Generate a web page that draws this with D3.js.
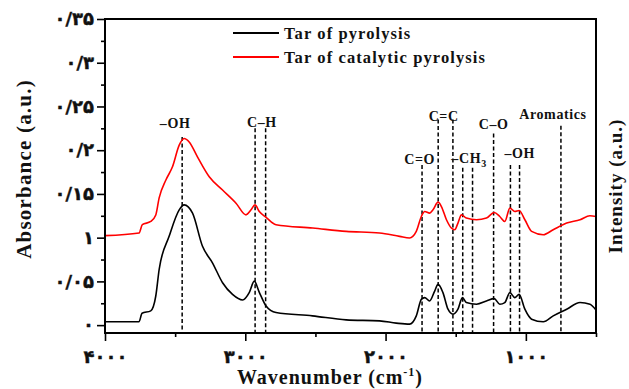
<!DOCTYPE html>
<html>
<head>
<meta charset="utf-8">
<script src="https://cdn.jsdelivr.net/npm/d3@7"></script>
<style>
  body { margin: 0; background: #fff; }
  svg { display: block; }
  text { font-family: "Liberation Serif", "Times New Roman", serif; font-weight: bold; fill: #111; }
  .axis text { font-family: "DejaVu Sans", sans-serif; font-size: 18px; font-weight: bold; stroke: #111; stroke-width: 0.4px; }
  .axis line { stroke: #000; stroke-width: 1.6px; }
  .axis path { display: none; }
</style>
</head>
<body>
<svg id="chart"></svg>
<script>
// datos (cm-1 / absorbancia)
const pyrolysisWn = [4000, 3757, 3736, 3674, 3638, 3614, 3543, 3471, 3436, 3376, 3305, 3234, 3162, 3091, 3019, 2971, 2936, 2900, 2852, 2781, 2521, 2281, 2043, 1924, 1829, 1781, 1745, 1721, 1686, 1650, 1626, 1591, 1555, 1519, 1484, 1452, 1424, 1352, 1281, 1226, 1186, 1150, 1114, 1079, 1048, 1007, 959, 876, 805, 709, 614, 543, 500];
const pyrolysisAbs = [0.0038, 0.004, 0.0136, 0.0163, 0.0333, 0.0636, 0.1015, 0.1318, 0.1375, 0.128, 0.0901, 0.0713, 0.0485, 0.0352, 0.0288, 0.0375, 0.0503, 0.0375, 0.0219, 0.0144, 0.0106, 0.006, 0.0049, 0.0023, 0.0011, 0.0106, 0.0295, 0.0315, 0.0276, 0.039, 0.0466, 0.0372, 0.0182, 0.0125, 0.0182, 0.0315, 0.0258, 0.0239, 0.0276, 0.0303, 0.0239, 0.0258, 0.0372, 0.0315, 0.0352, 0.0182, 0.0068, 0.0038, 0.0106, 0.0182, 0.0258, 0.0239, 0.0172];

const catalyticWn = [4000, 3757, 3734, 3674, 3638, 3614, 3566, 3519, 3471, 3436, 3400, 3341, 3257, 3162, 3066, 2995, 2959, 2931, 2900, 2852, 2781, 2519, 2281, 2043, 1900, 1829, 1781, 1745, 1721, 1686, 1662, 1626, 1602, 1566, 1531, 1507, 1484, 1459, 1424, 1352, 1281, 1226, 1186, 1150, 1114, 1079, 1048, 1007, 959, 876, 805, 709, 614, 543, 500];
const catalyticAbs = [0.1023, 0.1053, 0.1148, 0.1185, 0.126, 0.1455, 0.1659, 0.181, 0.2057, 0.2133, 0.2094, 0.1924, 0.1697, 0.1545, 0.1394, 0.1261, 0.1318, 0.1375, 0.1299, 0.1233, 0.1148, 0.111, 0.1072, 0.1053, 0.1015, 0.0997, 0.1072, 0.1242, 0.1299, 0.1281, 0.1318, 0.1406, 0.1356, 0.1205, 0.111, 0.1091, 0.1167, 0.1261, 0.1224, 0.1205, 0.1224, 0.1288, 0.1242, 0.1185, 0.1338, 0.1299, 0.131, 0.1205, 0.1072, 0.1034, 0.1091, 0.1167, 0.1205, 0.125, 0.1242];

const seriesNames = ['Tar of pyrolysis', 'Tar of catalytic pyrolysis'];
const seriesColors = ['#000', '#ff0000'];

// bandas marcadas con lineas discontinuas
const bandNames = ['–OH', 'C–H', 'C=O', 'C=C', '–CH', 'C–O', '–OH', 'Aromatics'];
const bandSub = ['', '', '', '', '3', '', '', ''];
const bandLines = [[3450], [2930, 2855], [1740], [1625, 1520], [1450, 1380], [1230], [1110, 1045], [750]];
const bandTops = [0.215, 0.225, 0.183, 0.235, 0.18, 0.219, 0.183, 0.228];
const bandLabelWn = [3500, 2882, 1757, 1586, 1405, 1229, 1043, 807];
const bandLabelAbs = [0.2307, 0.2318, 0.19, 0.2386, 0.191, 0.2295, 0.1966, 0.241];

const yTicks = [0, 0.05, 0.1, 0.15, 0.2, 0.25, 0.3, 0.35];
const yTickLabels = ['۰', '۰/۰۵', '۱', '۰/۱۵', '۰/۲', '۰/۲۵', '۰/۳', '۰/۳۵'];
const xTicks = [4000, 3000, 2000, 1000];
const xTickLabels = ['۴۰۰۰', '۳۰۰۰', '۲۰۰۰', '۱۰۰۰'];

const w = 629, h = 389;
const margin = { top: 19, right: 33, bottom: 56, left: 105 };
const width = w - margin.left - margin.right;
const height = h - margin.top - margin.bottom;

const svg = d3.select('#chart').attr('width', w).attr('height', h);
const g = svg.append('g').attr('transform', 'translate(' + margin.left + ',' + margin.top + ')');

const x = d3.scaleLinear().domain([4000, 500]).range([0, width]);
const y = d3.scaleLinear().domain([-0.009, 0.35]).range([height, 0]);

// ejes
g.append('g').attr('class', 'axis')
  .call(d3.axisLeft(y).tickValues(d3.range(0.025, 0.35, 0.05)).tickSize(4).tickFormat(''));
g.append('g').attr('class', 'axis')
  .call(d3.axisLeft(y).tickValues(yTicks).tickSize(8).tickPadding(3)
    .tickFormat((d, i) => yTickLabels[i]));

g.append('g').attr('class', 'axis').attr('transform', 'translate(0,' + height + ')')
  .call(d3.axisBottom(x).tickValues([3500, 2500, 1500, 500]).tickSize(4).tickFormat(''));
g.append('g').attr('class', 'axis').attr('transform', 'translate(0,' + height + ')')
  .call(d3.axisBottom(x).tickValues(xTicks).tickSize(8).tickPadding(9)
    .tickFormat((d, i) => xTickLabels[i]));

// lineas de bandas
const bands = g.append('g');
bandLines.forEach((lines, i) => {
  lines.forEach(wn => {
    bands.append('line')
      .attr('x1', x(wn)).attr('x2', x(wn))
      .attr('y1', y(bandTops[i])).attr('y2', height)
      .attr('stroke', '#000').attr('stroke-width', 1.5)
      .attr('stroke-dasharray', '4,2.5');
  });
  const t = bands.append('text')
    .attr('x', x(bandLabelWn[i])).attr('y', y(bandLabelAbs[i]))
    .attr('dy', '0.35em').attr('text-anchor', 'middle')
    .style('font-size', '14px').style('letter-spacing', '0.6px')
    .text(bandNames[i]);
  if (bandSub[i]) {
    t.append('tspan').attr('dy', '4').style('font-size', '10px').text(bandSub[i]);
  }
});

// espectros
const line = d3.line().curve(d3.curveMonotoneX).x(d => x(d[0])).y(d => y(d[1]));
const series = [
  d3.zip(pyrolysisWn, pyrolysisAbs),
  d3.zip(catalyticWn, catalyticAbs)
];
series.forEach((s, i) => {
  g.append('path').datum(s)
    .attr('fill', 'none')
    .attr('stroke', seriesColors[i])
    .attr('stroke-width', 1.6)
    .attr('stroke-linejoin', 'round')
    .attr('d', line);
});

// marco
g.append('rect').attr('width', width).attr('height', height)
  .attr('fill', 'none').attr('stroke', '#000').attr('stroke-width', 2);

// leyenda
const legend = svg.append('g').attr('transform', 'translate(233,33)');
seriesNames.forEach((name, i) => {
  legend.append('line').attr('x1', 0).attr('x2', 46)
    .attr('y1', i * 24).attr('y2', i * 24)
    .attr('stroke', seriesColors[i]).attr('stroke-width', 2);
  legend.append('text').attr('x', 51).attr('y', i * 24).attr('dy', '0.35em')
    .style('font-size', '16.5px').style('letter-spacing', '1.1px')
    .text(name);
});

// titulos de ejes
svg.append('text')
  .attr('transform', 'translate(31,' + (margin.top + 150) + ') rotate(-90)')
  .attr('text-anchor', 'middle')
  .style('font-size', '21px').style('letter-spacing', '1.2px')
  .text('Absorbance (a.u.)');

const xt = svg.append('text')
  .attr('x', 330).attr('y', 384)
  .attr('text-anchor', 'middle')
  .style('font-size', '20px').style('letter-spacing', '1px')
  .text('Wavenumber (cm');
xt.append('tspan').attr('dy', -8).style('font-size', '12px').text('-1');
xt.append('tspan').attr('dy', 8).text(')');

svg.append('text')
  .attr('transform', 'translate(622,186) rotate(-90)')
  .attr('text-anchor', 'middle')
  .style('font-size', '19px').style('letter-spacing', '1px')
  .text('Intensity (a.u.)');
</script>
</body>
</html>
